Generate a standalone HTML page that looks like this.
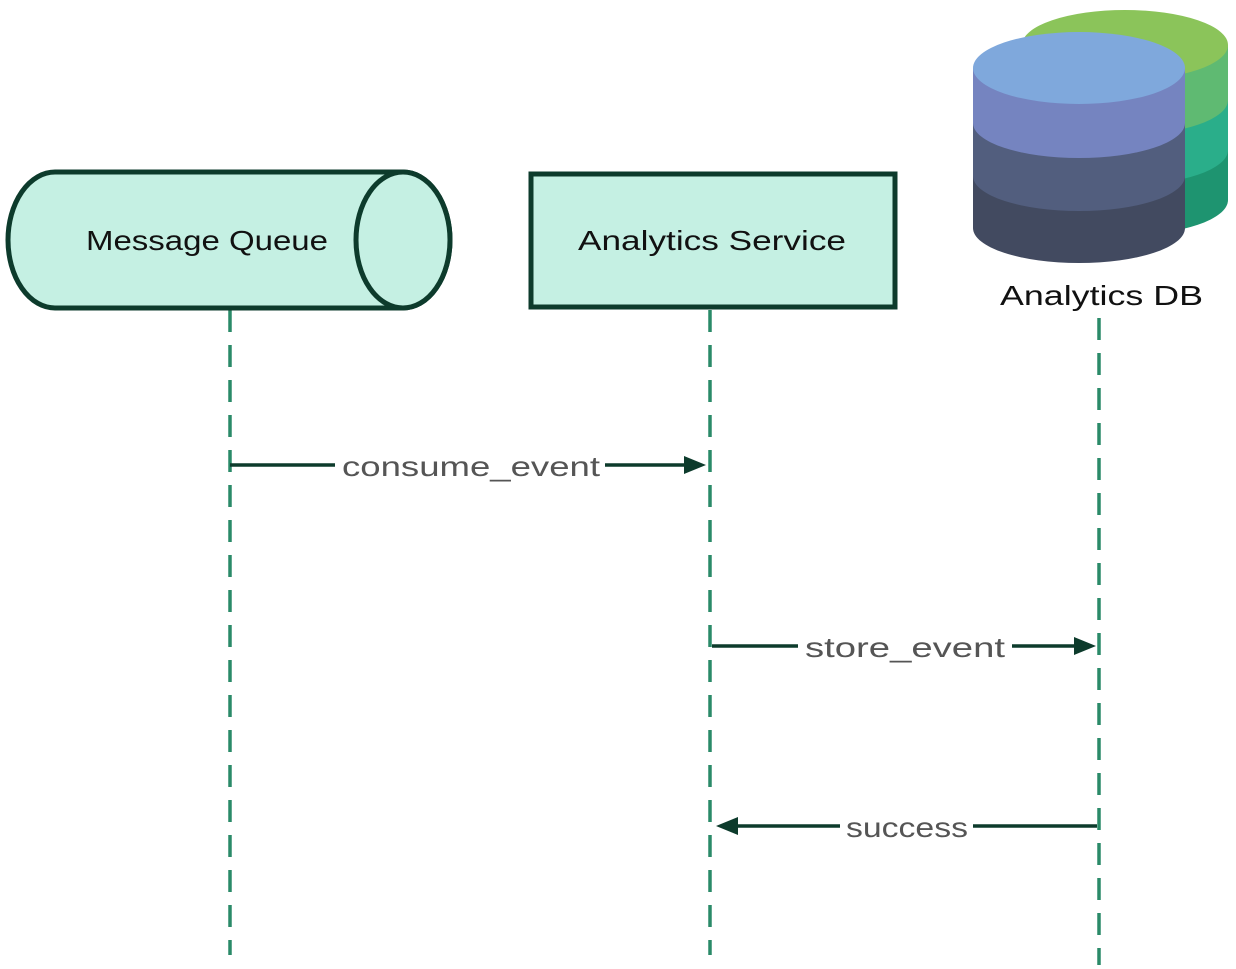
<!DOCTYPE html>
<html><head><style>
body{margin:0;background:#fff;}
svg{display:block}
text{font-family:"Liberation Sans",sans-serif;}
</style></head><body>
<svg width="1236" height="969" viewBox="0 0 1236 969">
<g stroke="#2a8a68" stroke-width="3.5" stroke-dasharray="22 13" fill="none">
<line x1="230" y1="310" x2="230" y2="955"/>
<line x1="710" y1="310" x2="710" y2="955"/>
<line x1="1099" y1="318" x2="1099" y2="965"/>
</g>
<!-- Message Queue -->
<path d="M55,172 L403,172 A47,68 0 0 1 403,308 L55,308 A47,68 0 0 1 55,172 Z" fill="#c5f0e3" stroke="#0d3b2c" stroke-width="5"/>
<ellipse cx="403" cy="240" rx="47" ry="68" fill="#c5f0e3" stroke="#0d3b2c" stroke-width="5"/>
<text x="86" y="250" font-size="28" textLength="242" lengthAdjust="spacingAndGlyphs" fill="#111">Message Queue</text>
<!-- Analytics Service -->
<rect x="531" y="174" width="364" height="133" fill="#c5f0e3" stroke="#0d3b2c" stroke-width="5"/>
<text x="578" y="250" font-size="28" textLength="268" lengthAdjust="spacingAndGlyphs" fill="#111">Analytics Service</text>
<!-- DB back -->
<path d="M1022,45 L1022,200 A103,35 0 0 0 1228,200 L1228,45 Z" fill="#1e9470"/>
<path d="M1022,45 L1022,150 A103,35 0 0 0 1228,150 L1228,45 Z" fill="#2aae8a"/>
<path d="M1022,45 L1022,100 A103,35 0 0 0 1228,100 L1228,45 Z" fill="#5fba72"/>
<ellipse cx="1125" cy="45" rx="103" ry="35" fill="#8bc45a"/>
<!-- DB front -->
<path d="M973,68 L973,228 A106,35 0 0 0 1185,228 L1185,68 Z" fill="#424a60"/>
<path d="M973,68 L973,176 A106,35 0 0 0 1185,176 L1185,68 Z" fill="#525e7e"/>
<path d="M973,68 L973,123 A106,35 0 0 0 1185,123 L1185,68 Z" fill="#7584c0"/>
<ellipse cx="1079" cy="68" rx="106" ry="36" fill="#7fa8dc"/>
<text x="1000" y="305" font-size="28" textLength="203" lengthAdjust="spacingAndGlyphs" fill="#111">Analytics DB</text>
<!-- arrows -->
<g stroke="#0d3b2c" stroke-width="3.5" fill="#0d3b2c">
<line x1="230" y1="465" x2="335" y2="465"/><line x1="605" y1="465" x2="690" y2="465"/>
<polygon points="706,465 684,456 684,474" stroke="none"/>
<line x1="712" y1="646" x2="798" y2="646"/><line x1="1012" y1="646" x2="1078" y2="646"/>
<polygon points="1096,646 1074,637 1074,655" stroke="none"/>
<line x1="1097" y1="826" x2="973" y2="826"/><line x1="840" y1="826" x2="734" y2="826"/>
<polygon points="716,826 738,817 738,835" stroke="none"/>
</g>
<g font-size="28" fill="#555" lengthAdjust="spacingAndGlyphs">
<text x="342" y="476" textLength="258" lengthAdjust="spacingAndGlyphs">consume_event</text>
<text x="805" y="657" textLength="200" lengthAdjust="spacingAndGlyphs">store_event</text>
<text x="846" y="837" textLength="122" lengthAdjust="spacingAndGlyphs">success</text>
</g>
</svg>
</body></html>
